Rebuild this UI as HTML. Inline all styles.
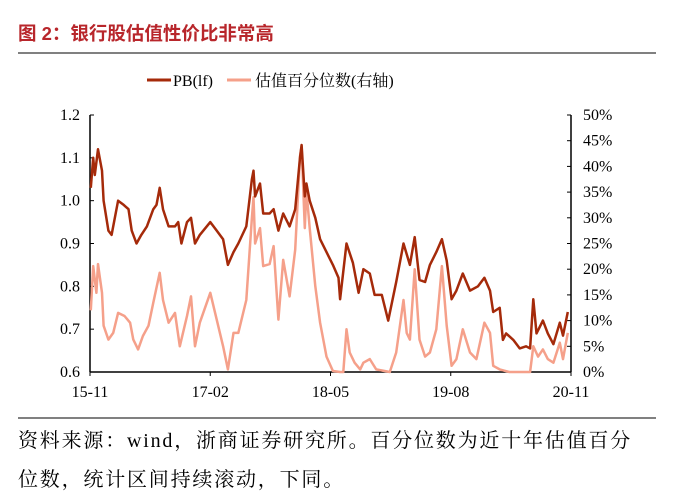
<!DOCTYPE html>
<html><head><meta charset="utf-8"><style>
body{margin:0;background:#fff;width:674px;height:502px;overflow:hidden}
svg{display:block}
.serif{font-family:"Liberation Serif","Noto Serif CJK SC",serif}
</style></head><body>
<svg width="674" height="502" xmlns="http://www.w3.org/2000/svg">
<text x="18" y="40" style="font-family:'Liberation Sans','Noto Sans CJK SC',sans-serif" font-weight="bold" font-size="18.5" fill="#b8262b">图 2：银行股估值性价比非常高</text>
<line x1="18" y1="53" x2="656" y2="53" stroke="#000" stroke-width="1"/>
<g class="serif" font-size="16" fill="#000">
<line x1="147" y1="80" x2="171" y2="80" stroke="#a52a0a" stroke-width="3"/>
<text x="173" y="86">PB(lf)</text>
<line x1="227" y1="80" x2="251" y2="80" stroke="#f5a08a" stroke-width="3"/>
<text x="255" y="86">估值百分位数(右轴)</text>
</g>
<g id="axes" class="serif" font-size="16" fill="#000"></g>
<g id="series"></g>
<line x1="18" y1="418" x2="656" y2="418" stroke="#000" stroke-width="1"/>
<text x="18" y="447" class="serif" font-size="20" letter-spacing="1.8" fill="#000">资料来源：wind，浙商证券研究所。百分位数为近十年估值百分</text>
<text x="18" y="486" class="serif" font-size="20" letter-spacing="1.8" fill="#000">位数，统计区间持续滚动，下同。</text>
</svg>
<script>
const xTickLabels=["15-11","17-02","18-05","19-08","20-11"];
const xTickMonths=[0,15,30,45,60];
const leftTicks=[0.6,0.7,0.8,0.9,1.0,1.1,1.2];
const rightTicks=[0,5,10,15,20,25,30,35,40,45,50];
const pbMonths=[0.1,0.4,0.6,1.0,1.5,1.7,2.3,2.7,3.5,4.2,4.8,5.2,5.8,6.4,7.1,7.9,8.3,8.7,9.1,9.8,10.6,11.0,11.4,12.1,12.6,13.1,13.7,15.0,15.8,16.6,17.2,17.9,18.5,19.5,20.2,20.4,20.6,21.2,21.6,22.4,22.9,23.5,24.1,24.9,25.6,26.2,26.4,26.8,27.0,27.4,28.1,28.7,29.5,30.3,31.0,31.2,32.0,32.8,33.5,34.1,34.9,35.5,36.4,37.2,38.2,39.1,39.9,40.5,41.1,41.8,42.4,43.2,43.9,44.5,45.1,45.7,46.5,47.4,48.4,49.2,49.9,50.3,51.1,51.5,51.9,52.8,53.6,54.4,54.9,55.3,55.7,56.5,57.1,57.8,58.6,59.0,59.6];
const pbValues=[1.03,1.10,1.06,1.12,1.07,1.00,0.93,0.92,1.00,0.99,0.98,0.93,0.90,0.92,0.94,0.98,0.99,1.03,0.98,0.94,0.94,0.95,0.90,0.95,0.96,0.90,0.92,0.95,0.93,0.91,0.85,0.88,0.90,0.94,1.05,1.07,1.01,1.04,0.97,0.97,0.98,0.93,0.97,0.94,0.98,1.10,1.13,1.01,1.04,1.00,0.96,0.91,0.88,0.85,0.82,0.77,0.90,0.855,0.785,0.84,0.83,0.78,0.78,0.72,0.81,0.90,0.85,0.915,0.815,0.81,0.85,0.88,0.91,0.86,0.77,0.79,0.83,0.79,0.80,0.82,0.79,0.74,0.75,0.675,0.69,0.675,0.655,0.66,0.655,0.77,0.69,0.72,0.69,0.665,0.715,0.685,0.74];
const pctMonths=[0.1,0.4,0.8,1.0,1.5,1.7,2.3,2.9,3.5,4.3,5.0,5.4,6.0,6.6,7.3,7.9,8.7,9.1,9.8,10.6,11.2,12.1,12.6,13.1,13.7,15.0,15.8,16.6,17.2,17.9,18.5,19.5,20.2,20.4,20.6,21.2,21.6,22.4,22.9,23.5,24.1,24.9,25.6,26.2,26.4,26.8,27.0,27.4,28.1,28.7,29.5,30.3,31.2,31.6,32.0,32.4,33.0,33.7,34.1,34.9,35.7,37.4,38.2,39.1,39.5,39.9,40.5,41.1,41.8,42.4,43.2,43.9,44.5,45.1,45.7,46.5,47.4,48.2,49.2,49.9,50.3,51.1,52.3,54.9,55.3,55.9,56.5,57.1,57.8,58.6,59.0,59.6];
const pctValues=[12,20.6,15.4,21,15.4,9,6.3,7.6,11.5,10.9,9.6,6.3,4.4,7,9,13.5,19.3,14,9.6,11.5,5,10.9,14.7,5,9.6,15.4,10.2,5,0.5,7.6,7.6,14,30,34,25,28,20.6,21,24.5,10.2,21.8,14.7,23.8,42,43.9,28,35.4,28,16.7,9.6,3,0.2,0,0,8.3,3.8,1.8,0.5,1.8,2.5,0.5,0,3.8,14,7.6,6.3,20,6.3,3,3.8,8.3,20.6,9,1.2,2.5,8.3,3.8,2.5,9.6,7.6,1.2,0.5,0,0,5,3,4.4,2.5,1.8,5.7,2.5,7.6];

const X0=90,X1=571,YT=115,YB=372;
const xs=m=>X0+(X1-X0)*m/60;
const yL=v=>YB-(YB-YT)*(v-0.6)/0.6;
const yR=p=>YB-(YB-YT)*p/50;
const NS="http://www.w3.org/2000/svg";
function mk(tag,attrs,parent){const e=document.createElementNS(NS,tag);for(const k in attrs)e.setAttribute(k,attrs[k]);parent.appendChild(e);return e;}
const axes=document.getElementById('axes');
const series=document.getElementById('series');

const la=mk('line',{x1:X0,y1:YT,x2:X0,y2:YB,stroke:'#000','stroke-width':1.5},axes);


const ra=mk('line',{x1:X1,y1:YT,x2:X1,y2:YB,stroke:'#000','stroke-width':1.5},axes);


const xa=mk('line',{x1:X0,y1:YB,x2:X1,y2:YB,stroke:'#000','stroke-width':1.5},axes);



leftTicks.forEach(v=>{
  const y=yL(v);
  mk('line',{x1:X0,y1:y,x2:X0+4,y2:y,stroke:'#000'},axes);
  const t=mk('text',{x:X0-10,y:y+5,'text-anchor':'end'},axes);
  t.textContent=v.toFixed(1);
  
  
});
rightTicks.forEach(p=>{
  const y=yR(p);
  mk('line',{x1:X1-4,y1:y,x2:X1,y2:y,stroke:'#000'},axes);
  const t=mk('text',{x:X1+12,y:y+5},axes);
  t.textContent=p+'%';
  
  
});
xTickMonths.forEach((m,i)=>{
  const x=xs(m);
  mk('line',{x1:x,y1:YB,x2:x,y2:YB+4,stroke:'#000'},axes);
  const t=mk('text',{x:x,y:YB+25,'text-anchor':'middle'},axes);
  t.textContent=xTickLabels[i];
  
  
});

const pctPts=pctMonths.map((m,i)=>xs(m).toFixed(1)+','+yR(pctValues[i]).toFixed(1)).join(' ');
const pl=mk('polyline',{points:pctPts,fill:'none',stroke:'#f5a08a','stroke-width':2.5,'stroke-linejoin':'round'},series);


const pbPts=pbMonths.map((m,i)=>xs(m).toFixed(1)+','+yL(pbValues[i]).toFixed(1)).join(' ');
const bl=mk('polyline',{points:pbPts,fill:'none',stroke:'#a52a0a','stroke-width':2.5,'stroke-linejoin':'round'},series);


</script>
</body></html>
